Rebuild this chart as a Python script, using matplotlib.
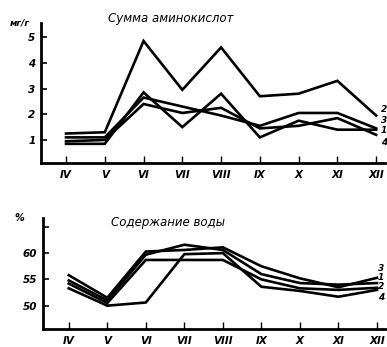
import matplotlib
matplotlib.use("Agg")
import matplotlib.pyplot as plt

months = ["IV", "V", "VI", "VII", "VIII", "IX", "X", "XI", "XII"]

# Сумма аминокислот, мг/г
amino_2 = [1.25, 1.3, 4.85, 2.95, 4.6, 2.7, 2.8, 3.3, 1.95]
amino_3 = [1.1, 1.1, 2.65, 2.3, 1.95, 1.55, 2.05, 2.05, 1.45]
amino_1 = [0.85, 0.85, 2.85, 1.5, 2.8, 1.1, 1.75, 1.4, 1.4]
amino_4 = [0.95, 1.0, 2.4, 2.05, 2.25, 1.45, 1.55, 1.85, 1.2]
amino_labels = ["2", "3", "1", "4"]
amino_label_y = [2.18, 1.74, 1.36, 0.92]

# Содержание воды, %
water_3 = [55.8, 51.5, 60.3, 60.6, 61.1, 57.5, 55.2, 53.5, 55.3]
water_1 = [54.8, 51.0, 59.7, 61.6, 60.6, 56.0, 54.3, 54.0, 54.3]
water_2 = [54.2, 50.5, 58.7, 58.7, 58.7, 55.0, 53.3, 53.0, 53.4]
water_4 = [53.3, 50.0, 50.6, 59.8, 60.0, 53.6, 52.8, 51.7, 53.0]
water_labels = ["3", "1", "2", "4"]
water_label_y = [57.0, 55.3, 53.6, 51.6]

fig = plt.figure(figsize=(3.87, 3.47), dpi=100)
fig.patch.set_facecolor("white")

x = list(range(len(months)))
lw = 1.9
fs_tick = 7.5
tfont = dict(style="italic", weight="bold", family="DejaVu Sans")
titlefont = dict(style="italic", weight="normal", family="DejaVu Sans")

def style_axes(ax, yticks):
    for s in ["top", "right"]:
        ax.spines[s].set_visible(False)
    for s in ["left", "bottom"]:
        ax.spines[s].set_linewidth(2.0)
    ax.set_xticks(x)
    ax.set_xticklabels(months, fontsize=fs_tick, **tfont)
    ax.set_yticks(yticks)
    ax.set_yticklabels([str(v) for v in yticks], fontsize=fs_tick, **tfont)
    ax.tick_params(axis="y", direction="in", length=4, width=1.2, pad=4)
    ax.tick_params(axis="x", direction="in", length=5, width=1.0, pad=5)

# Top panel
ax1 = fig.add_axes([0.106, 0.530, 0.889, 0.403])
for ser in [amino_2, amino_3, amino_1, amino_4]:
    ax1.plot(x, ser, color="black", lw=lw, solid_joinstyle="miter")
ax1.set_xlim(-0.645, 8.23)
ax1.set_ylim(0.1, 5.54)
style_axes(ax1, [1, 2, 3, 4, 5])
for lab, yv in zip(amino_labels, amino_label_y):
    ax1.text(8.12, yv, lab, fontsize=6.5, va="center", ha="left", clip_on=False, **tfont)
fig.text(0.44, 0.948, "Сумма аминокислот", fontsize=8.5, ha="center", va="center", **titlefont)
fig.text(0.05, 0.933, "мг/г", fontsize=6.5, ha="center", va="center", **tfont)

# Bottom panel
ax2 = fig.add_axes([0.110, 0.051, 0.887, 0.321])
for ser in [water_3, water_1, water_2, water_4]:
    ax2.plot(x, ser, color="black", lw=lw, solid_joinstyle="miter")
ax2.set_xlim(-0.68, 8.23)
ax2.set_ylim(45.5, 66.7)
style_axes(ax2, [50, 55, 60])
ax2.set_yticks([50, 55, 60, 65])
ax2.set_yticklabels(["50", "55", "60", ""], fontsize=fs_tick, **tfont)
for lab, yv in zip(water_labels, water_label_y):
    ax2.text(8.02, yv, lab, fontsize=6.5, va="center", ha="left", clip_on=False, **tfont)
fig.text(0.435, 0.358, "Содержание воды", fontsize=8.5, ha="center", va="center", **titlefont)
fig.text(0.05, 0.372, "%", fontsize=7, ha="center", va="center", **tfont)

fig.savefig("out.png", dpi=100, facecolor="white")
